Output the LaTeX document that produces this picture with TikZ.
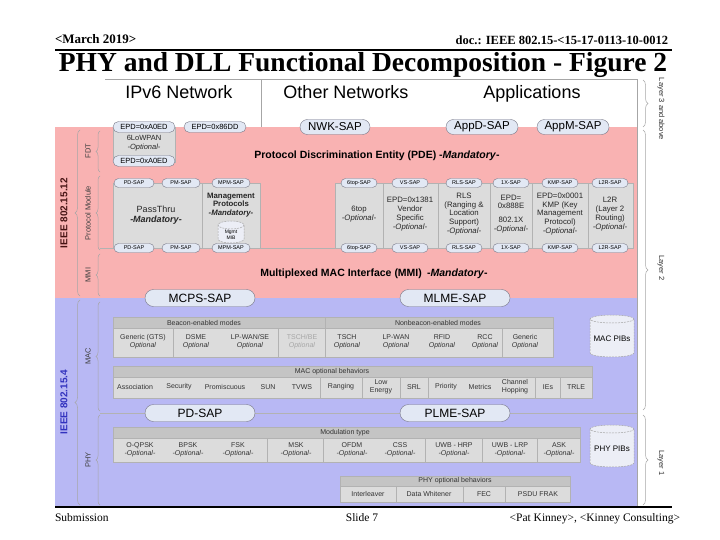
\documentclass[tikz,border=0pt]{standalone}
\usepackage{fontspec}
\setmainfont{Liberation Serif}
\setsansfont{Liberation Sans}
\usetikzlibrary{decorations.pathreplacing}
\definecolor{pinkbg}{RGB}{249,178,178}
\definecolor{bluebg}{RGB}{184,184,244}
\definecolor{boxgray}{RGB}{220,220,220}
\definecolor{headgray}{RGB}{196,196,196}
\definecolor{sapfill}{RGB}{226,232,244}
\definecolor{sapline}{RGB}{120,120,135}
\definecolor{cylfill}{RGB}{236,238,246}
\definecolor{lblred}{RGB}{70,20,20}
\definecolor{lblblue}{RGB}{50,50,190}
\newcommand\fsz[2]{\fontsize{#1}{#2}\selectfont}
\newcommand\mycyl[7]{%
  \fill[cylfill] ({#1-#3/2},{#2-#4/2}) rectangle ({#1+#3/2},{#2+#4/2});
  \fill[cylfill] (#1,{#2+#4/2}) ellipse [x radius={#3/2}, y radius=4];
  \draw[cylline] ({#1-#3/2},{#2-#4/2}) -- ({#1-#3/2},{#2+#4/2}) arc[start angle=180, end angle=0, x radius={#3/2}, y radius=4] -- ({#1+#3/2},{#2-#4/2});
  \draw[cylline, fill=cylfill] (#1,{#2-#4/2}) ellipse [x radius={#3/2}, y radius=4];
  \node[font=\sffamily#7, align=center] (#5) at (#1,{#2+3}) {#6};
}
\begin{document}
\begin{tikzpicture}[x=1pt,y=-1pt,
  every node/.style={inner sep=0pt, outer sep=0pt},
  sapbig/.style={draw=sapline, fill=sapfill, rounded corners=7.5pt, minimum height=15pt, font=\sffamily\fsz{11.5}{12}},
  sapmid/.style={draw=sapline, fill=sapfill, rounded corners=5.5pt, minimum height=11pt, minimum width=62pt, font=\sffamily\fsz{7.5}{8}},
  sapsm/.style={draw=sapline, fill=sapfill, rounded corners=4.5pt, minimum height=9pt, minimum width=38pt, font=\sffamily\fsz{5.5}{6}},
  gbox/.style={draw=gray!60, fill=boxgray},
  btxt/.style={font=\sffamily\fsz{7.8}{8.8}, align=center, text=black!85},
  ctxt/.style={font=\sffamily\fsz{7}{8}, align=center, text=black!80},
  htxt/.style={font=\sffamily\fsz{7}{8}, text=black!80},
  tline/.style={draw=gray!60, line width=0.4pt},
  cylline/.style={draw=gray!70, dash pattern=on 2pt off 1pt, line width=0.5pt},
  brc/.style={draw=gray!70, line width=0.5pt, decorate, decoration={brace, amplitude=5pt}},
  brcs/.style={draw=gray!70, line width=0.5pt, decorate, decoration={brace, amplitude=4pt}},
  sidelbl/.style={font=\sffamily\fsz{7.5}{8}, text=black!75},
  layerlbl/.style={font=\sffamily\fsz{7.5}{8}, text=black!80, rotate=-90},
  bigtxt/.style={font=\sffamily\fsz{18}{19}, anchor=base}
]
\useasboundingbox (0,0) rectangle (720,540);

% ---------- header and footer ----------
\node[anchor=base west, font=\bfseries\fsz{13}{15}] (hdate) at (55,44) {<March 2019>};
\node[anchor=base east, font=\bfseries\fsz{12.5}{15}] (hdoc) at (668,45) {doc.: IEEE 802.15-<15-17-0113-10-0012};
\draw[line width=1.3pt] (55,50) -- (672,50);
\node[anchor=base, font=\bfseries\fsz{27.5}{30}] (title) at (363,72) {PHY and DLL Functional Decomposition - Figure 2};
\draw[line width=1.2pt] (55,507) -- (672,507);
\node[anchor=base west, font=\fsz{11.5}{13}] (fsub) at (55,521) {Submission};
\node[anchor=base, font=\fsz{11.5}{13}] (fslide) at (362,521) {Slide 7};
\node[anchor=base east, font=\fsz{11.5}{13}] (fauth) at (680,521) {<Pat Kinney>, <Kinney Consulting>};

% ---------- backgrounds ----------
\fill[pinkbg] (55,127) rectangle (637,298);
\fill[bluebg] (55,298) rectangle (637,506);
\draw[gray!70, line width=0.5pt] (105,79) -- (637,79) -- (637,506);
\draw[gray!70, line width=0.5pt] (261,79) -- (261,127);

% ---------- layer 3 ----------
\node[bigtxt] (ipv6) at (179,99) {IPv6 Network};
\node[bigtxt] (othn) at (346,99) {Other Networks};
\node[bigtxt] (apps) at (532,99) {Applications};

% ---------- 6LoWPAN ----------
\draw[gbox] (113,127) rectangle (175,162);
\node[btxt, font=\sffamily\fsz{7.5}{8.5}] (lowpan) at (144,143) {6LoWPAN\\\textit{-Optional-}};

\node[sapmid] (epda) at (144,127) {EPD=0xA0ED};
\node[sapmid] (epdb) at (215,127) {EPD=0x86DD};
\node[sapmid] (epdc) at (144,161) {EPD=0xA0ED};
\node[sapbig, minimum width=70pt] (nwk) at (335,127) {NWK-SAP};
\node[sapbig, minimum width=72pt] (appd) at (482,127) {AppD-SAP};
\node[sapbig, minimum width=72pt] (appm) at (573,127) {AppM-SAP};

\node[font=\sffamily\bfseries\fsz{10.5}{11}] (pde) at (377,156) {Protocol Discrimination Entity (PDE) -\textit{Mandatory}-};

% ---------- protocol modules ----------
\draw[gray!60, line width=0.5pt] (100,248) -- (633,248);
\draw[gbox] (113,183) rectangle (202,248);
\draw[gbox] (202,183) rectangle (260,248);
\draw[gbox] (335,183) rectangle (383,248);
\draw[gbox] (383,183) rectangle (438,248);
\draw[gbox] (438,183) rectangle (490,248);
\draw[gbox] (490,183) rectangle (532,248);
\draw[gbox] (532,183) rectangle (588,248);
\draw[gbox] (588,183) rectangle (633,248);

\node[btxt, font=\sffamily\fsz{9}{10.5}] (passthru) at (156,215) {PassThru\\\textbf{\textit{-Mandatory-}}};
\node[btxt, font=\sffamily\bfseries\fsz{7.8}{8.8}] (mgmt) at (231,205) {Management\\Protocols\\\textit{-Mandatory-}};
\mycyl{231}{232}{26}{14}{mib}{Mgmt\\MIB}{\fsz{5}{5.5}}
\node[btxt] (sixtop) at (359,214) {6top\\\textit{-Optional-}};
\node[btxt] (vend) at (410,214) {EPD=0x1381\\Vendor\\Specific\\\textit{-Optional-}};
\node[btxt] (rls) at (464,214) {RLS\\(Ranging \&\\Location\\Support)\\\textit{-Optional-}};
\node[btxt] (dotx) at (511,214) {EPD=\\0x888E\\[5pt]802.1X\\\textit{-Optional-}};
\node[btxt] (kmp) at (560,214) {EPD=0x0001\\KMP (Key\\Management\\Protocol)\\\textit{-Optional-}};
\node[btxt] (ltwor) at (610,214) {L2R\\(Layer 2\\Routing)\\\textit{-Optional-}};

\node[sapsm, minimum width=40pt] (pdt) at (134,183) {PD-SAP};
\node[sapsm] (pmt) at (181,183) {PM-SAP};
\node[sapsm] (mpmt) at (231,183) {MPM-SAP};
\node[sapsm, minimum width=36pt] (sixt) at (359,183) {6top-SAP};
\node[sapsm, minimum width=36pt] (vst) at (410,183) {VS-SAP};
\node[sapsm, minimum width=36pt] (rlst) at (464,183) {RLS-SAP};
\node[sapsm, minimum width=36pt] (onext) at (511,183) {1X-SAP};
\node[sapsm, minimum width=36pt] (kmpt) at (560,183) {KMP-SAP};
\node[sapsm, minimum width=36pt] (ltwot) at (610,183) {L2R-SAP};
\node[sapsm, minimum width=40pt] (pdb) at (134,248) {PD-SAP};
\node[sapsm] (pmb) at (181,248) {PM-SAP};
\node[sapsm] (mpmb) at (231,248) {MPM-SAP};
\node[sapsm, minimum width=36pt] (sixb) at (359,248) {6top-SAP};
\node[sapsm, minimum width=36pt] (vsb) at (410,248) {VS-SAP};
\node[sapsm, minimum width=36pt] (rlsb) at (464,248) {RLS-SAP};
\node[sapsm, minimum width=36pt] (onexb) at (511,248) {1X-SAP};
\node[sapsm, minimum width=36pt] (kmpb) at (560,248) {KMP-SAP};
\node[sapsm, minimum width=36pt] (ltwob) at (610,248) {L2R-SAP};

\node[font=\sffamily\bfseries\fsz{10.5}{11}] (mmi) at (374,274) {Multiplexed MAC Interface (MMI)\enspace -\textit{Mandatory}-};

\node[sapbig, minimum width=110pt, minimum height=17pt, rounded corners=8.5pt, font=\sffamily\fsz{12}{13}] (mcps) at (200,298) {MCPS-SAP};
\node[sapbig, minimum width=110pt, minimum height=17pt, rounded corners=8.5pt, font=\sffamily\fsz{12}{13}] (mlme) at (455,298) {MLME-SAP};

% ---------- MAC modes table ----------
\draw[tline, fill=headgray] (113,317) rectangle (553,328);
\draw[tline, fill=boxgray] (113,328) rectangle (553,357);
\draw[tline] (325,317) -- (325,328);
\foreach \xx in {173,278,325,502} \draw[tline] (\xx,328) -- (\xx,357);
\node[htxt] (beac) at (204,322.5) {Beacon-enabled modes};
\node[htxt] (nbeac) at (438,322.5) {Nonbeacon-enabled modes};
\node[ctxt] (gts) at (143,342) {Generic (GTS)\\\textit{Optional}};
\node[ctxt] (dsme) at (196,342) {DSME\\\textit{Optional}};
\node[ctxt] (lpwse) at (250,342) {LP-WAN/SE\\\textit{Optional}};
\node[ctxt, text=black!35] (tschbe) at (302,342) {TSCH/BE\\\textit{Optional}};
\node[ctxt] (tsch) at (347,342) {TSCH\\\textit{Optional}};
\node[ctxt] (lpw) at (396,342) {LP-WAN\\\textit{Optional}};
\node[ctxt] (rfid) at (442,342) {RFID\\\textit{Optional}};
\node[ctxt] (rcc) at (485,342) {RCC\\\textit{Optional}};
\node[ctxt] (gen) at (525,342) {Generic\\\textit{Optional}};

% ---------- MAC optional behaviours ----------
\draw[tline, fill=headgray] (113,366) rectangle (592,377);
\draw[tline, fill=boxgray] (113,377) rectangle (592,398);
\foreach \xx in {320,362,400,428,535,560} \draw[tline] (\xx,377) -- (\xx,398);
\node[htxt] (macopt) at (332,371.5) {MAC optional behaviors};
\node[ctxt] (assoc) at (135,387) {Association};
\node[ctxt] (secu) at (179,387) {Security};
\node[ctxt] (promi) at (225,387) {Promiscuous};
\node[ctxt] (sun) at (268,387) {SUN};
\node[ctxt] (tvws) at (302,387) {TVWS};
\node[ctxt] (rang) at (341,387) {Ranging};
\node[ctxt] (lowe) at (381,387) {Low\\Energy};
\node[ctxt] (srl) at (414,387) {SRL};
\node[ctxt] (prio) at (446,387) {Priority};
\node[ctxt] (metr) at (480,387) {Metrics};
\node[ctxt] (chop) at (515,387) {Channel\\Hopping};
\node[ctxt] (ies) at (548,387) {IEs};
\node[ctxt] (trle) at (576,387) {TRLE};

\mycyl{612}{336}{44}{34}{macpib}{MAC PIBs}{\fsz{8}{9}}

% ---------- PHY ----------
\draw[gray!60, line width=0.5pt] (100,413) -- (637,413);
\node[sapbig, minimum width=110pt, minimum height=17pt, rounded corners=8.5pt, font=\sffamily\fsz{12}{13}] (pdsap) at (200,413) {PD-SAP};
\node[sapbig, minimum width=110pt, minimum height=17pt, rounded corners=8.5pt, font=\sffamily\fsz{12}{13}] (plme) at (455,413) {PLME-SAP};

\draw[tline, fill=headgray] (113,427) rectangle (580,438);
\draw[tline, fill=boxgray] (113,438) rectangle (580,462);
\foreach \xx in {267,323,425,482,537} \draw[tline] (\xx,438) -- (\xx,462);
\node[htxt] (modt) at (345,432.5) {Modulation type};
\node[ctxt] (oqpsk) at (140,450) {O-QPSK\\\textit{-Optional-}};
\node[ctxt] (bpsk) at (188,450) {BPSK\\\textit{-Optional-}};
\node[ctxt] (fsk) at (238,450) {FSK\\\textit{-Optional-}};
\node[ctxt] (msk) at (296,450) {MSK\\\textit{-Optional-}};
\node[ctxt] (ofdm) at (352,450) {OFDM\\\textit{-Optional-}};
\node[ctxt] (css) at (400,450) {CSS\\\textit{-Optional-}};
\node[ctxt] (uwbh) at (454,450) {UWB - HRP\\\textit{-Optional-}};
\node[ctxt] (uwbl) at (510,450) {UWB - LRP\\\textit{-Optional-}};
\node[ctxt] (ask) at (559,450) {ASK\\\textit{-Optional-}};

\mycyl{612}{446}{44}{34}{phypib}{PHY PIBs}{\fsz{8}{9}}

\draw[tline, fill=headgray] (340,476) rectangle (570,486);
\draw[tline, fill=boxgray] (340,486) rectangle (570,502);
\foreach \xx in {396,463,505} \draw[tline] (\xx,486) -- (\xx,502);
\node[htxt] (phyopt) at (455,481) {PHY optional behaviors};
\node[ctxt] (ileav) at (368,494) {Interleaver};
\node[ctxt] (dwhit) at (429,494) {Data Whitener};
\node[ctxt] (fec) at (484,494) {FEC};
\node[ctxt] (psdu) at (538,494) {PSDU FRAK};

% ---------- left braces and labels ----------
\draw[brc] (80,296) -- (80,130);
\draw[brc] (80,505) -- (80,300);
\draw[brcs] (100,172) -- (100,131);
\draw[brcs] (100,250) -- (100,176);
\draw[brcs] (100,296) -- (100,254);
\draw[brcs] (100,411) -- (100,302);
\draw[brcs] (100,505) -- (100,415);
\node[rotate=90, font=\sffamily\bfseries\fsz{10}{11}, text=lblred] (l1512) at (64,213) {IEEE 802.15.12};
\node[rotate=90, font=\sffamily\bfseries\fsz{10}{11}, text=lblblue] (l154) at (64,402) {IEEE 802.15.4};
\node[rotate=90, sidelbl] (lfdt) at (88,151) {FDT};
\node[rotate=90, sidelbl] (lpm) at (88,213) {Protocol Module};
\node[rotate=90, sidelbl] (lmmi) at (88,275) {MMI};
\node[rotate=90, sidelbl] (lmac) at (88,356) {MAC};
\node[rotate=90, sidelbl] (lphy) at (88,460) {PHY};

% ---------- right braces and labels ----------
\draw[brc] (643,80) -- (643,127);
\draw[brc] (643,130) -- (643,410);
\draw[brc] (643,415) -- (643,505);
\node[layerlbl] (lay3) at (661,109) {Layer 3 and above};
\node[layerlbl] (lay2) at (661,268) {Layer 2};
\node[layerlbl] (lay1) at (661,463) {Layer 1};
\end{tikzpicture}
\end{document}
